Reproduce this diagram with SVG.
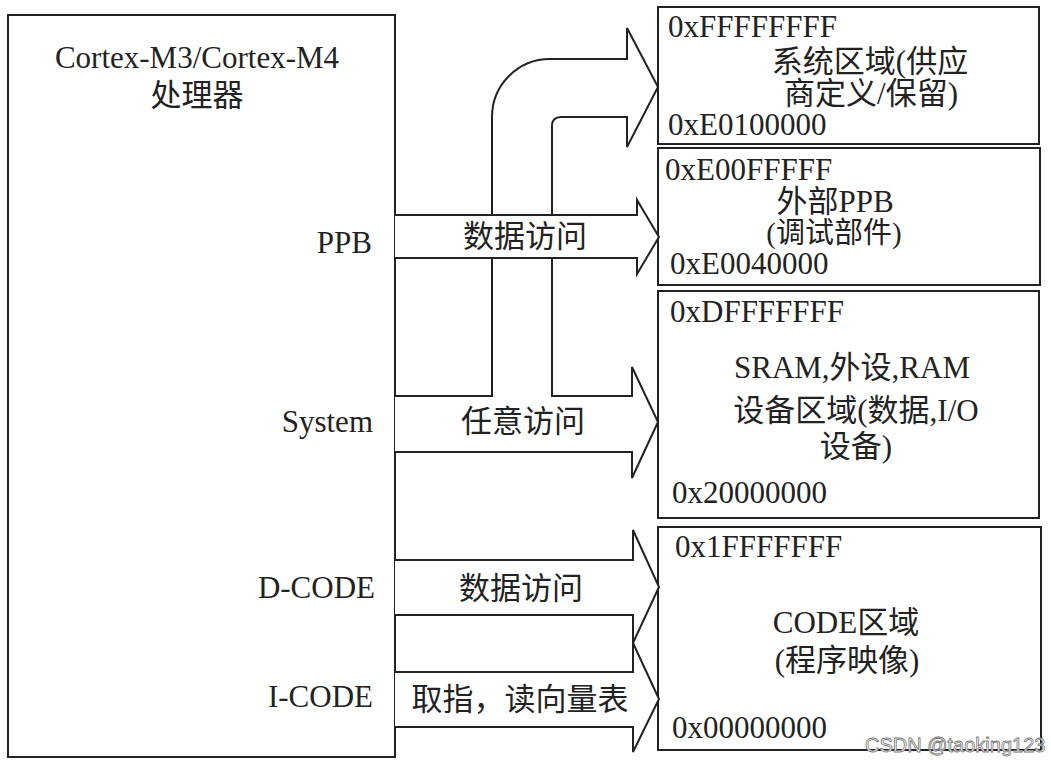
<svg xmlns="http://www.w3.org/2000/svg" width="1051" height="767" viewBox="0 0 1051 767">
<style>
.box{fill:#fff;stroke:#222;stroke-width:2}
.arr{fill:#fff;stroke:#222;stroke-width:2;stroke-linejoin:miter}
text{font-family:"Liberation Serif","Noto Sans CJK SC",serif;font-size:31px;fill:#222}
.c{text-anchor:middle}
.e{text-anchor:end}
.s{font-size:29px}
.wm{font-family:"Liberation Sans","Noto Sans",sans-serif;font-size:20px;fill:#fff;stroke:#777;stroke-width:0.8}
</style>
<rect width="1051" height="767" fill="#fff"/>
<g id="cpu">
<rect class="box" x="8" y="15" width="387" height="742"/>
<text class="c" x="197" y="68">Cortex-M3/Cortex-M4</text>
<text class="c" x="197" y="106">处理器</text>
<text class="e" x="372" y="253">PPB</text>
<text class="e" x="373" y="432">System</text>
<text class="e" x="375" y="598">D-CODE</text>
<text class="e" x="373" y="707">I-CODE</text>
</g>
<g id="region-system">
<rect class="box" x="658" y="7" width="381" height="137"/>
<text x="668" y="37">0xFFFFFFFF</text>
<text class="c" x="870" y="72">系统区域(供应</text>
<text class="c" x="871" y="104">商定义/保留)</text>
<text x="668" y="135">0xE0100000</text>
</g>
<g id="region-ppb">
<rect class="box" x="658" y="148" width="382" height="137"/>
<text x="665" y="180">0xE00FFFFF</text>
<text class="c" x="835" y="212">外部PPB</text>
<text class="c s" x="834" y="243">(调试部件)</text>
<text x="670" y="274">0xE0040000</text>
</g>
<g id="region-sram">
<rect class="box" x="658" y="291" width="381" height="227"/>
<text x="670" y="322">0xDFFFFFFF</text>
<text class="c" x="852" y="378">SRAM,外设,RAM</text>
<text class="c" x="856" y="421">设备区域(数据,I/O</text>
<text class="c" x="856" y="457">设备)</text>
<text x="672" y="503">0x20000000</text>
</g>
<g id="region-code">
<rect class="box" x="658" y="527" width="383" height="223"/>
<text x="675" y="557">0x1FFFFFFF</text>
<text class="c" x="846" y="633">CODE区域</text>
<text class="c" x="847" y="671">(程序映像)</text>
<text x="672" y="738">0x00000000</text>
</g>
<g id="connectors">
<path class="arr" d="M395,396 L492,396 L492,117 A58,58 0 0 1 550,59 L627,59 L627,28 L658,87 L627,147 L627,117 L561,117 Q552,117 552,126 L552,396 L632,396 L632,367 L658,422 L632,478 L632,452 L395,452"/>
<path class="arr" d="M395,215 L637,215 L637,200 L659,237 L637,274 L637,258 L395,258"/>
<path class="arr" d="M395,560 L633,560 L633,530 L659,587 L633,643 L633,615 L395,615"/>
<path class="arr" d="M395,672 L633,672 L633,643 L659,699 L633,752 L633,727 L395,727"/>
<text class="c" x="525" y="247">数据访问</text>
<text class="c" x="523" y="432">任意访问</text>
<text class="c" x="521" y="599">数据访问</text>
<text class="c" x="520" y="710">取指，读向量表</text>
</g>
<text class="wm" x="865" y="752">CSDN @taoking123</text>
</svg>
